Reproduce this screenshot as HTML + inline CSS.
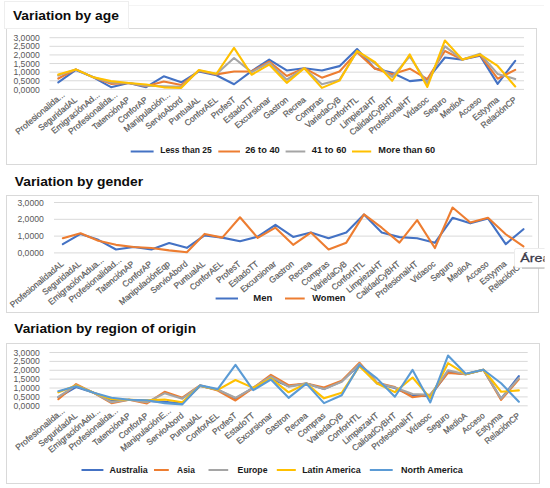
<!DOCTYPE html>
<html><head><meta charset="utf-8"><style>
html,body{margin:0;padding:0;background:#fff;width:550px;height:488px;overflow:hidden;}
svg text{font-family:"Liberation Sans", sans-serif;}
</style></head><body>
<svg width="550" height="488" viewBox="0 0 550 488" style="display:block;font-family:'Liberation Sans', sans-serif"><rect x="0" y="0" width="550" height="488" fill="#ffffff"/><line x1="128" y1="5.5" x2="544" y2="5.5" stroke="#f4f4f4" stroke-width="1"/><rect x="6.5" y="28.5" width="530.0" height="136.0" fill="#fff" stroke="#d9d9d9" stroke-width="1"/><line x1="49.5" y1="89.40" x2="524" y2="89.40" stroke="#d9d9d9" stroke-width="1"/><line x1="49.5" y1="80.78" x2="524" y2="80.78" stroke="#d9d9d9" stroke-width="1"/><line x1="49.5" y1="72.17" x2="524" y2="72.17" stroke="#d9d9d9" stroke-width="1"/><line x1="49.5" y1="63.55" x2="524" y2="63.55" stroke="#d9d9d9" stroke-width="1"/><line x1="49.5" y1="54.93" x2="524" y2="54.93" stroke="#d9d9d9" stroke-width="1"/><line x1="49.5" y1="46.32" x2="524" y2="46.32" stroke="#d9d9d9" stroke-width="1"/><line x1="49.5" y1="37.70" x2="524" y2="37.70" stroke="#d9d9d9" stroke-width="1"/><text x="39.8" y="92.50" text-anchor="end" font-size="8.8" fill="#595959" textLength="26.4" lengthAdjust="spacingAndGlyphs">0,0000</text><text x="39.8" y="83.88" text-anchor="end" font-size="8.8" fill="#595959" textLength="26.4" lengthAdjust="spacingAndGlyphs">0,5000</text><text x="39.8" y="75.27" text-anchor="end" font-size="8.8" fill="#595959" textLength="26.4" lengthAdjust="spacingAndGlyphs">1,0000</text><text x="39.8" y="66.65" text-anchor="end" font-size="8.8" fill="#595959" textLength="26.4" lengthAdjust="spacingAndGlyphs">1,5000</text><text x="39.8" y="58.03" text-anchor="end" font-size="8.8" fill="#595959" textLength="26.4" lengthAdjust="spacingAndGlyphs">2,0000</text><text x="39.8" y="49.42" text-anchor="end" font-size="8.8" fill="#595959" textLength="26.4" lengthAdjust="spacingAndGlyphs">2,5000</text><text x="39.8" y="40.80" text-anchor="end" font-size="8.8" fill="#595959" textLength="26.4" lengthAdjust="spacingAndGlyphs">3,0000</text><polyline points="58.29,82.33 75.86,69.93 93.44,77.34 111.01,87.16 128.58,83.02 146.16,87.16 163.73,76.30 181.31,82.33 198.88,71.48 216.45,75.27 234.03,84.23 251.60,71.13 269.18,59.59 286.75,70.44 304.32,68.20 321.90,70.44 339.47,66.14 357.05,49.07 374.62,68.38 392.19,72.68 409.77,81.13 427.34,79.40 444.92,57.52 462.49,59.59 480.06,55.62 497.64,83.89 515.21,60.79" fill="none" stroke="#4472c4" stroke-width="2.1" stroke-linejoin="round" stroke-linecap="round"/><polyline points="58.29,78.54 75.86,69.41 93.44,77.34 111.01,83.89 128.58,83.02 146.16,86.30 163.73,81.47 181.31,85.09 198.88,70.79 216.45,74.41 234.03,71.48 251.60,71.48 269.18,61.65 286.75,75.96 304.32,68.20 321.90,77.68 339.47,71.48 357.05,52.18 374.62,68.38 392.19,74.23 409.77,68.72 427.34,79.06 444.92,50.97 462.49,59.59 480.06,54.93 497.64,78.72 515.21,69.93" fill="none" stroke="#ed7d31" stroke-width="2.1" stroke-linejoin="round" stroke-linecap="round"/><polyline points="58.29,75.61 75.86,69.41 93.44,77.34 111.01,82.51 128.58,83.02 146.16,85.61 163.73,86.30 181.31,86.82 198.88,70.44 216.45,74.06 234.03,58.04 251.60,72.17 269.18,62.86 286.75,79.75 304.32,68.20 321.90,84.23 339.47,79.75 357.05,51.49 374.62,63.21 392.19,76.99 409.77,56.31 427.34,83.54 444.92,46.32 462.49,59.59 480.06,53.73 497.64,73.89 515.21,79.06" fill="none" stroke="#a5a5a5" stroke-width="2.1" stroke-linejoin="round" stroke-linecap="round"/><polyline points="58.29,74.58 75.86,69.41 93.44,77.34 111.01,81.13 128.58,83.02 146.16,84.57 163.73,87.33 181.31,87.85 198.88,69.93 216.45,73.72 234.03,47.87 251.60,74.75 269.18,64.58 286.75,82.85 304.32,68.20 321.90,87.85 339.47,80.61 357.05,50.97 374.62,61.83 392.19,80.78 409.77,54.42 427.34,86.99 444.92,40.46 462.49,59.59 480.06,54.42 497.64,65.96 515.21,86.47" fill="none" stroke="#ffc000" stroke-width="2.1" stroke-linejoin="round" stroke-linecap="round"/><text x="65.29" y="95.70" text-anchor="end" font-size="8.6" fill="#595959" stroke="#595959" stroke-width="0.2" textLength="61.08" lengthAdjust="spacingAndGlyphs" transform="rotate(-40 65.29 95.70)">Profesionalida...</text><text x="77.86" y="100.70" text-anchor="end" font-size="8.6" fill="#595959" stroke="#595959" stroke-width="0.2" textLength="47.64" lengthAdjust="spacingAndGlyphs" transform="rotate(-40 77.86 100.70)">SeguridadAL</text><text x="100.44" y="95.70" text-anchor="end" font-size="8.6" fill="#595959" stroke="#595959" stroke-width="0.2" textLength="60.16" lengthAdjust="spacingAndGlyphs" transform="rotate(-40 100.44 95.70)">EmigraciónAd...</text><text x="118.01" y="95.70" text-anchor="end" font-size="8.6" fill="#595959" stroke="#595959" stroke-width="0.2" textLength="61.08" lengthAdjust="spacingAndGlyphs" transform="rotate(-40 118.01 95.70)">Profesionalida...</text><text x="130.58" y="100.70" text-anchor="end" font-size="8.6" fill="#595959" stroke="#595959" stroke-width="0.2" textLength="46.26" lengthAdjust="spacingAndGlyphs" transform="rotate(-40 130.58 100.70)">TatenciónAP</text><text x="148.16" y="100.70" text-anchor="end" font-size="8.6" fill="#595959" stroke="#595959" stroke-width="0.2" textLength="35.72" lengthAdjust="spacingAndGlyphs" transform="rotate(-40 148.16 100.70)">ConforAP</text><text x="170.73" y="95.70" text-anchor="end" font-size="8.6" fill="#595959" stroke="#595959" stroke-width="0.2" textLength="57.42" lengthAdjust="spacingAndGlyphs" transform="rotate(-40 170.73 95.70)">Manipulación...</text><text x="183.31" y="100.70" text-anchor="end" font-size="8.6" fill="#595959" stroke="#595959" stroke-width="0.2" textLength="45.34" lengthAdjust="spacingAndGlyphs" transform="rotate(-40 183.31 100.70)">ServioAbord</text><text x="200.88" y="100.70" text-anchor="end" font-size="8.6" fill="#595959" stroke="#595959" stroke-width="0.2" textLength="38.02" lengthAdjust="spacingAndGlyphs" transform="rotate(-40 200.88 100.70)">PuntualAL</text><text x="218.45" y="100.70" text-anchor="end" font-size="8.6" fill="#595959" stroke="#595959" stroke-width="0.2" textLength="40.31" lengthAdjust="spacingAndGlyphs" transform="rotate(-40 218.45 100.70)">ConforAEL</text><text x="236.03" y="100.70" text-anchor="end" font-size="8.6" fill="#595959" stroke="#595959" stroke-width="0.2" textLength="28.85" lengthAdjust="spacingAndGlyphs" transform="rotate(-40 236.03 100.70)">ProfesT</text><text x="253.60" y="100.70" text-anchor="end" font-size="8.6" fill="#595959" stroke="#595959" stroke-width="0.2" textLength="35.72" lengthAdjust="spacingAndGlyphs" transform="rotate(-40 253.60 100.70)">EstadoTT</text><text x="271.18" y="100.70" text-anchor="end" font-size="8.6" fill="#595959" stroke="#595959" stroke-width="0.2" textLength="43.50" lengthAdjust="spacingAndGlyphs" transform="rotate(-40 271.18 100.70)">Excursionar</text><text x="288.75" y="100.70" text-anchor="end" font-size="8.6" fill="#595959" stroke="#595959" stroke-width="0.2" textLength="29.31" lengthAdjust="spacingAndGlyphs" transform="rotate(-40 288.75 100.70)">Gastron</text><text x="306.32" y="100.70" text-anchor="end" font-size="8.6" fill="#595959" stroke="#595959" stroke-width="0.2" textLength="26.56" lengthAdjust="spacingAndGlyphs" transform="rotate(-40 306.32 100.70)">Recrea</text><text x="323.90" y="100.70" text-anchor="end" font-size="8.6" fill="#595959" stroke="#595959" stroke-width="0.2" textLength="33.42" lengthAdjust="spacingAndGlyphs" transform="rotate(-40 323.90 100.70)">Compras</text><text x="341.47" y="100.70" text-anchor="end" font-size="8.6" fill="#595959" stroke="#595959" stroke-width="0.2" textLength="43.36" lengthAdjust="spacingAndGlyphs" transform="rotate(-40 341.47 100.70)">VariedaCyB</text><text x="359.05" y="100.70" text-anchor="end" font-size="8.6" fill="#595959" stroke="#595959" stroke-width="0.2" textLength="40.30" lengthAdjust="spacingAndGlyphs" transform="rotate(-40 359.05 100.70)">ConforHTL</text><text x="376.62" y="100.70" text-anchor="end" font-size="8.6" fill="#595959" stroke="#595959" stroke-width="0.2" textLength="43.96" lengthAdjust="spacingAndGlyphs" transform="rotate(-40 376.62 100.70)">LimpiezaHT</text><text x="394.19" y="100.70" text-anchor="end" font-size="8.6" fill="#595959" stroke="#595959" stroke-width="0.2" textLength="54.49" lengthAdjust="spacingAndGlyphs" transform="rotate(-40 394.19 100.70)">CalidadCyBHT</text><text x="411.77" y="100.70" text-anchor="end" font-size="8.6" fill="#595959" stroke="#595959" stroke-width="0.2" textLength="52.21" lengthAdjust="spacingAndGlyphs" transform="rotate(-40 411.77 100.70)">ProfesionalHT</text><text x="429.34" y="100.70" text-anchor="end" font-size="8.6" fill="#595959" stroke="#595959" stroke-width="0.2" textLength="29.16" lengthAdjust="spacingAndGlyphs" transform="rotate(-40 429.34 100.70)">Vidasoc</text><text x="446.92" y="100.70" text-anchor="end" font-size="8.6" fill="#595959" stroke="#595959" stroke-width="0.2" textLength="26.57" lengthAdjust="spacingAndGlyphs" transform="rotate(-40 446.92 100.70)">Seguro</text><text x="464.49" y="100.70" text-anchor="end" font-size="8.6" fill="#595959" stroke="#595959" stroke-width="0.2" textLength="27.94" lengthAdjust="spacingAndGlyphs" transform="rotate(-40 464.49 100.70)">MedioA</text><text x="482.06" y="100.70" text-anchor="end" font-size="8.6" fill="#595959" stroke="#595959" stroke-width="0.2" textLength="27.02" lengthAdjust="spacingAndGlyphs" transform="rotate(-40 482.06 100.70)">Acceso</text><text x="499.64" y="100.70" text-anchor="end" font-size="8.6" fill="#595959" stroke="#595959" stroke-width="0.2" textLength="31.59" lengthAdjust="spacingAndGlyphs" transform="rotate(-40 499.64 100.70)">Estyyma</text><text x="517.21" y="100.70" text-anchor="end" font-size="8.6" fill="#595959" stroke="#595959" stroke-width="0.2" textLength="43.51" lengthAdjust="spacingAndGlyphs" transform="rotate(-40 517.21 100.70)">RelaciónCP</text><line x1="130.7" y1="151.5" x2="153.6" y2="151.5" stroke="#4472c4" stroke-width="2"/><text x="160.2" y="153.10" font-size="9.6" font-weight="bold" fill="#1a1a1a" textLength="51.5" lengthAdjust="spacingAndGlyphs">Less than 25</text><line x1="218.3" y1="151.5" x2="240" y2="151.5" stroke="#ed7d31" stroke-width="2"/><text x="245.2" y="153.10" font-size="9.6" font-weight="bold" fill="#1a1a1a" textLength="34.60000000000002" lengthAdjust="spacingAndGlyphs">26 to 40</text><line x1="285.6" y1="151.5" x2="305.3" y2="151.5" stroke="#a5a5a5" stroke-width="2"/><text x="311.8" y="153.10" font-size="9.6" font-weight="bold" fill="#1a1a1a" textLength="34.69999999999999" lengthAdjust="spacingAndGlyphs">41 to 60</text><line x1="352" y1="151.5" x2="371.2" y2="151.5" stroke="#ffc000" stroke-width="2"/><text x="378.3" y="153.10" font-size="9.6" font-weight="bold" fill="#1a1a1a" textLength="56.89999999999998" lengthAdjust="spacingAndGlyphs">More than 60</text><rect x="4.5" y="1.5" width="124" height="27" fill="#fff" stroke="#eeeeee" stroke-width="1"/><text x="12.9" y="19.8" font-size="13.6" font-weight="bold" fill="#0d0d0d" textLength="106" lengthAdjust="spacingAndGlyphs">Variation by age</text><text x="14.8" y="185.7" font-size="13.6" font-weight="bold" fill="#0d0d0d" textLength="128.3" lengthAdjust="spacingAndGlyphs">Variation by gender</text><rect x="6.5" y="195.5" width="532.0" height="117.0" fill="#fff" stroke="#d9d9d9" stroke-width="1"/><line x1="54" y1="252.90" x2="532.3" y2="252.90" stroke="#d9d9d9" stroke-width="1"/><line x1="54" y1="236.10" x2="532.3" y2="236.10" stroke="#d9d9d9" stroke-width="1"/><line x1="54" y1="219.30" x2="532.3" y2="219.30" stroke="#d9d9d9" stroke-width="1"/><line x1="54" y1="202.50" x2="532.3" y2="202.50" stroke="#d9d9d9" stroke-width="1"/><text x="43.8" y="256.00" text-anchor="end" font-size="8.8" fill="#595959" textLength="26.4" lengthAdjust="spacingAndGlyphs">0,0000</text><text x="43.8" y="239.20" text-anchor="end" font-size="8.8" fill="#595959" textLength="26.4" lengthAdjust="spacingAndGlyphs">1,0000</text><text x="43.8" y="222.40" text-anchor="end" font-size="8.8" fill="#595959" textLength="26.4" lengthAdjust="spacingAndGlyphs">2,0000</text><text x="43.8" y="205.60" text-anchor="end" font-size="8.8" fill="#595959" textLength="26.4" lengthAdjust="spacingAndGlyphs">3,0000</text><polyline points="62.86,244.16 80.57,233.92 98.29,239.80 116.00,249.54 133.72,247.02 151.43,249.54 169.15,242.99 186.86,247.86 204.58,235.43 222.29,237.61 240.01,241.31 257.72,236.60 275.44,224.84 293.15,236.94 310.86,232.57 328.58,238.28 346.29,232.57 364.01,214.60 381.72,232.57 399.44,237.11 417.15,238.28 434.87,242.82 452.58,217.79 470.30,223.33 488.01,218.46 505.73,244.16 523.44,229.21" fill="none" stroke="#4472c4" stroke-width="2.1" stroke-linejoin="round" stroke-linecap="round"/><polyline points="62.86,238.28 80.57,233.24 98.29,240.80 116.00,244.84 133.72,247.02 151.43,248.03 169.15,250.38 186.86,252.23 204.58,233.92 222.29,237.61 240.01,217.28 257.72,237.95 275.44,227.70 293.15,244.84 310.86,232.57 328.58,249.54 346.29,242.65 364.01,214.43 381.72,227.70 399.44,242.65 417.15,220.14 434.87,248.03 452.58,207.54 470.30,222.49 488.01,217.79 505.73,234.25 523.44,246.35" fill="none" stroke="#ed7d31" stroke-width="2.1" stroke-linejoin="round" stroke-linecap="round"/><text x="64.16" y="264.90" text-anchor="end" font-size="8.6" fill="#595959" stroke="#595959" stroke-width="0.2" textLength="66.88" lengthAdjust="spacingAndGlyphs" transform="rotate(-40 64.16 264.90)">ProfesionalidadAL</text><text x="81.87" y="264.90" text-anchor="end" font-size="8.6" fill="#595959" stroke="#595959" stroke-width="0.2" textLength="47.64" lengthAdjust="spacingAndGlyphs" transform="rotate(-40 81.87 264.90)">SeguridadAL</text><text x="104.29" y="260.90" text-anchor="end" font-size="8.6" fill="#595959" stroke="#595959" stroke-width="0.2" textLength="69.32" lengthAdjust="spacingAndGlyphs" transform="rotate(-40 104.29 260.90)">EmigraciónAdua...</text><text x="122.00" y="260.90" text-anchor="end" font-size="8.6" fill="#595959" stroke="#595959" stroke-width="0.2" textLength="65.67" lengthAdjust="spacingAndGlyphs" transform="rotate(-40 122.00 260.90)">Profesionalidad...</text><text x="135.02" y="264.90" text-anchor="end" font-size="8.6" fill="#595959" stroke="#595959" stroke-width="0.2" textLength="46.26" lengthAdjust="spacingAndGlyphs" transform="rotate(-40 135.02 264.90)">TatenciónAP</text><text x="152.73" y="264.90" text-anchor="end" font-size="8.6" fill="#595959" stroke="#595959" stroke-width="0.2" textLength="35.72" lengthAdjust="spacingAndGlyphs" transform="rotate(-40 152.73 264.90)">ConforAP</text><text x="170.45" y="264.90" text-anchor="end" font-size="8.6" fill="#595959" stroke="#595959" stroke-width="0.2" textLength="63.21" lengthAdjust="spacingAndGlyphs" transform="rotate(-40 170.45 264.90)">ManipulaciónEqp</text><text x="188.16" y="264.90" text-anchor="end" font-size="8.6" fill="#595959" stroke="#595959" stroke-width="0.2" textLength="45.34" lengthAdjust="spacingAndGlyphs" transform="rotate(-40 188.16 264.90)">ServioAbord</text><text x="205.88" y="264.90" text-anchor="end" font-size="8.6" fill="#595959" stroke="#595959" stroke-width="0.2" textLength="38.02" lengthAdjust="spacingAndGlyphs" transform="rotate(-40 205.88 264.90)">PuntualAL</text><text x="223.59" y="264.90" text-anchor="end" font-size="8.6" fill="#595959" stroke="#595959" stroke-width="0.2" textLength="40.31" lengthAdjust="spacingAndGlyphs" transform="rotate(-40 223.59 264.90)">ConforAEL</text><text x="241.31" y="264.90" text-anchor="end" font-size="8.6" fill="#595959" stroke="#595959" stroke-width="0.2" textLength="28.85" lengthAdjust="spacingAndGlyphs" transform="rotate(-40 241.31 264.90)">ProfesT</text><text x="259.02" y="264.90" text-anchor="end" font-size="8.6" fill="#595959" stroke="#595959" stroke-width="0.2" textLength="35.72" lengthAdjust="spacingAndGlyphs" transform="rotate(-40 259.02 264.90)">EstadoTT</text><text x="276.74" y="264.90" text-anchor="end" font-size="8.6" fill="#595959" stroke="#595959" stroke-width="0.2" textLength="43.50" lengthAdjust="spacingAndGlyphs" transform="rotate(-40 276.74 264.90)">Excursionar</text><text x="294.45" y="264.90" text-anchor="end" font-size="8.6" fill="#595959" stroke="#595959" stroke-width="0.2" textLength="29.31" lengthAdjust="spacingAndGlyphs" transform="rotate(-40 294.45 264.90)">Gastron</text><text x="312.16" y="264.90" text-anchor="end" font-size="8.6" fill="#595959" stroke="#595959" stroke-width="0.2" textLength="26.56" lengthAdjust="spacingAndGlyphs" transform="rotate(-40 312.16 264.90)">Recrea</text><text x="329.88" y="264.90" text-anchor="end" font-size="8.6" fill="#595959" stroke="#595959" stroke-width="0.2" textLength="33.42" lengthAdjust="spacingAndGlyphs" transform="rotate(-40 329.88 264.90)">Compras</text><text x="347.59" y="264.90" text-anchor="end" font-size="8.6" fill="#595959" stroke="#595959" stroke-width="0.2" textLength="43.36" lengthAdjust="spacingAndGlyphs" transform="rotate(-40 347.59 264.90)">VariedaCyB</text><text x="365.31" y="264.90" text-anchor="end" font-size="8.6" fill="#595959" stroke="#595959" stroke-width="0.2" textLength="40.30" lengthAdjust="spacingAndGlyphs" transform="rotate(-40 365.31 264.90)">ConforHTL</text><text x="383.02" y="264.90" text-anchor="end" font-size="8.6" fill="#595959" stroke="#595959" stroke-width="0.2" textLength="43.96" lengthAdjust="spacingAndGlyphs" transform="rotate(-40 383.02 264.90)">LimpiezaHT</text><text x="400.74" y="264.90" text-anchor="end" font-size="8.6" fill="#595959" stroke="#595959" stroke-width="0.2" textLength="54.49" lengthAdjust="spacingAndGlyphs" transform="rotate(-40 400.74 264.90)">CalidadCyBHT</text><text x="418.45" y="264.90" text-anchor="end" font-size="8.6" fill="#595959" stroke="#595959" stroke-width="0.2" textLength="52.21" lengthAdjust="spacingAndGlyphs" transform="rotate(-40 418.45 264.90)">ProfesionalHT</text><text x="436.17" y="264.90" text-anchor="end" font-size="8.6" fill="#595959" stroke="#595959" stroke-width="0.2" textLength="29.16" lengthAdjust="spacingAndGlyphs" transform="rotate(-40 436.17 264.90)">Vidasoc</text><text x="453.88" y="264.90" text-anchor="end" font-size="8.6" fill="#595959" stroke="#595959" stroke-width="0.2" textLength="26.57" lengthAdjust="spacingAndGlyphs" transform="rotate(-40 453.88 264.90)">Seguro</text><text x="471.60" y="264.90" text-anchor="end" font-size="8.6" fill="#595959" stroke="#595959" stroke-width="0.2" textLength="27.94" lengthAdjust="spacingAndGlyphs" transform="rotate(-40 471.60 264.90)">MedioA</text><text x="489.31" y="264.90" text-anchor="end" font-size="8.6" fill="#595959" stroke="#595959" stroke-width="0.2" textLength="27.02" lengthAdjust="spacingAndGlyphs" transform="rotate(-40 489.31 264.90)">Acceso</text><text x="507.03" y="264.90" text-anchor="end" font-size="8.6" fill="#595959" stroke="#595959" stroke-width="0.2" textLength="31.59" lengthAdjust="spacingAndGlyphs" transform="rotate(-40 507.03 264.90)">Estyyma</text><text x="524.74" y="264.90" text-anchor="end" font-size="8.6" fill="#595959" stroke="#595959" stroke-width="0.2" textLength="43.51" lengthAdjust="spacingAndGlyphs" transform="rotate(-40 524.74 264.90)">RelaciónCP</text><line x1="215.6" y1="298.5" x2="238" y2="298.5" stroke="#4472c4" stroke-width="2"/><text x="253.3" y="301.10" font-size="9.6" font-weight="bold" fill="#1a1a1a" textLength="19.0" lengthAdjust="spacingAndGlyphs">Men</text><line x1="285" y1="298.5" x2="304.7" y2="298.5" stroke="#ed7d31" stroke-width="2"/><text x="312.3" y="301.10" font-size="9.6" font-weight="bold" fill="#1a1a1a" textLength="33.099999999999966" lengthAdjust="spacingAndGlyphs">Women</text><text x="14.3" y="332.6" font-size="13.6" font-weight="bold" fill="#0d0d0d" textLength="181.7" lengthAdjust="spacingAndGlyphs">Variation by region of origin</text><rect x="6.5" y="343.5" width="533.0" height="140.0" fill="#fff" stroke="#d9d9d9" stroke-width="1"/><line x1="49.5" y1="405.80" x2="527.7" y2="405.80" stroke="#d9d9d9" stroke-width="1"/><line x1="49.5" y1="396.92" x2="527.7" y2="396.92" stroke="#d9d9d9" stroke-width="1"/><line x1="49.5" y1="388.03" x2="527.7" y2="388.03" stroke="#d9d9d9" stroke-width="1"/><line x1="49.5" y1="379.15" x2="527.7" y2="379.15" stroke="#d9d9d9" stroke-width="1"/><line x1="49.5" y1="370.27" x2="527.7" y2="370.27" stroke="#d9d9d9" stroke-width="1"/><line x1="49.5" y1="361.38" x2="527.7" y2="361.38" stroke="#d9d9d9" stroke-width="1"/><line x1="49.5" y1="352.50" x2="527.7" y2="352.50" stroke="#d9d9d9" stroke-width="1"/><text x="39.8" y="408.90" text-anchor="end" font-size="8.8" fill="#595959" textLength="26.4" lengthAdjust="spacingAndGlyphs">0,0000</text><text x="39.8" y="400.02" text-anchor="end" font-size="8.8" fill="#595959" textLength="26.4" lengthAdjust="spacingAndGlyphs">0,5000</text><text x="39.8" y="391.13" text-anchor="end" font-size="8.8" fill="#595959" textLength="26.4" lengthAdjust="spacingAndGlyphs">1,0000</text><text x="39.8" y="382.25" text-anchor="end" font-size="8.8" fill="#595959" textLength="26.4" lengthAdjust="spacingAndGlyphs">1,5000</text><text x="39.8" y="373.37" text-anchor="end" font-size="8.8" fill="#595959" textLength="26.4" lengthAdjust="spacingAndGlyphs">2,0000</text><text x="39.8" y="364.48" text-anchor="end" font-size="8.8" fill="#595959" textLength="26.4" lengthAdjust="spacingAndGlyphs">2,5000</text><text x="39.8" y="355.60" text-anchor="end" font-size="8.8" fill="#595959" textLength="26.4" lengthAdjust="spacingAndGlyphs">3,0000</text><polyline points="58.36,397.27 76.07,386.97 93.78,392.83 111.49,400.47 129.20,399.76 146.91,400.83 164.62,401.89 182.33,403.49 200.04,385.90 217.76,389.81 235.47,398.52 253.18,387.86 270.89,378.62 288.60,386.26 306.31,383.59 324.02,389.10 341.73,381.28 359.44,364.94 377.16,383.59 394.87,388.03 412.58,396.03 430.29,396.03 448.00,372.04 465.71,374.18 483.42,369.73 501.13,398.69 518.84,376.13" fill="none" stroke="#4472c4" stroke-width="2.1" stroke-linejoin="round" stroke-linecap="round"/><polyline points="58.36,399.23 76.07,384.12 93.78,392.83 111.49,403.13 129.20,399.76 146.91,403.49 164.62,391.76 182.33,397.63 200.04,385.37 217.76,390.52 235.47,400.47 253.18,387.86 270.89,374.89 288.60,385.19 306.31,383.59 324.02,387.50 341.73,380.75 359.44,362.80 377.16,382.88 394.87,387.14 412.58,397.27 430.29,394.78 448.00,372.93 465.71,374.18 483.42,369.73 501.13,399.94 518.84,379.33" fill="none" stroke="#ed7d31" stroke-width="2.1" stroke-linejoin="round" stroke-linecap="round"/><polyline points="58.36,396.92 76.07,385.19 93.78,392.83 111.49,402.25 129.20,399.76 146.91,402.25 164.62,393.36 182.33,398.69 200.04,385.72 217.76,389.81 235.47,397.81 253.18,387.86 270.89,376.49 288.60,386.61 306.31,383.59 324.02,389.10 341.73,381.81 359.44,363.87 377.16,383.24 394.87,387.50 412.58,394.07 430.29,394.78 448.00,370.27 465.71,374.18 483.42,369.73 501.13,398.69 518.84,378.08" fill="none" stroke="#a5a5a5" stroke-width="2.1" stroke-linejoin="round" stroke-linecap="round"/><polyline points="58.36,392.30 76.07,385.55 93.78,392.83 111.49,399.23 129.20,399.76 146.91,400.29 164.62,399.58 182.33,402.25 200.04,385.72 217.76,389.81 235.47,380.04 253.18,387.86 270.89,378.44 288.60,392.30 306.31,383.59 324.02,398.34 341.73,392.83 359.44,366.18 377.16,383.59 394.87,392.12 412.58,377.55 430.29,398.16 448.00,363.16 465.71,374.18 483.42,369.73 501.13,391.76 518.84,390.34" fill="none" stroke="#ffc000" stroke-width="2.1" stroke-linejoin="round" stroke-linecap="round"/><polyline points="58.36,391.23 76.07,386.26 93.78,392.83 111.49,397.81 129.20,399.76 146.91,400.29 164.62,403.13 182.33,404.38 200.04,385.37 217.76,389.10 235.47,364.94 253.18,390.17 270.89,379.51 288.60,397.81 306.31,383.59 324.02,403.13 341.73,395.32 359.44,364.94 377.16,378.62 394.87,396.74 412.58,369.91 430.29,402.42 448.00,355.52 465.71,373.82 483.42,369.73 501.13,383.24 518.84,401.71" fill="none" stroke="#5b9bd5" stroke-width="2.1" stroke-linejoin="round" stroke-linecap="round"/><text x="65.36" y="411.60" text-anchor="end" font-size="8.6" fill="#595959" stroke="#595959" stroke-width="0.2" textLength="61.08" lengthAdjust="spacingAndGlyphs" transform="rotate(-40 65.36 411.60)">Profesionalida...</text><text x="78.07" y="416.60" text-anchor="end" font-size="8.6" fill="#595959" stroke="#595959" stroke-width="0.2" textLength="47.64" lengthAdjust="spacingAndGlyphs" transform="rotate(-40 78.07 416.60)">SeguridadAL</text><text x="100.78" y="411.60" text-anchor="end" font-size="8.6" fill="#595959" stroke="#595959" stroke-width="0.2" textLength="64.74" lengthAdjust="spacingAndGlyphs" transform="rotate(-40 100.78 411.60)">EmigraciónAdu...</text><text x="118.49" y="411.60" text-anchor="end" font-size="8.6" fill="#595959" stroke="#595959" stroke-width="0.2" textLength="61.08" lengthAdjust="spacingAndGlyphs" transform="rotate(-40 118.49 411.60)">Profesionalida...</text><text x="131.20" y="416.60" text-anchor="end" font-size="8.6" fill="#595959" stroke="#595959" stroke-width="0.2" textLength="46.26" lengthAdjust="spacingAndGlyphs" transform="rotate(-40 131.20 416.60)">TatenciónAP</text><text x="148.91" y="416.60" text-anchor="end" font-size="8.6" fill="#595959" stroke="#595959" stroke-width="0.2" textLength="35.72" lengthAdjust="spacingAndGlyphs" transform="rotate(-40 148.91 416.60)">ConforAP</text><text x="171.62" y="411.60" text-anchor="end" font-size="8.6" fill="#595959" stroke="#595959" stroke-width="0.2" textLength="62.92" lengthAdjust="spacingAndGlyphs" transform="rotate(-40 171.62 411.60)">ManipulaciónE...</text><text x="184.33" y="416.60" text-anchor="end" font-size="8.6" fill="#595959" stroke="#595959" stroke-width="0.2" textLength="45.34" lengthAdjust="spacingAndGlyphs" transform="rotate(-40 184.33 416.60)">ServioAbord</text><text x="202.04" y="416.60" text-anchor="end" font-size="8.6" fill="#595959" stroke="#595959" stroke-width="0.2" textLength="38.02" lengthAdjust="spacingAndGlyphs" transform="rotate(-40 202.04 416.60)">PuntualAL</text><text x="219.76" y="416.60" text-anchor="end" font-size="8.6" fill="#595959" stroke="#595959" stroke-width="0.2" textLength="40.31" lengthAdjust="spacingAndGlyphs" transform="rotate(-40 219.76 416.60)">ConforAEL</text><text x="237.47" y="416.60" text-anchor="end" font-size="8.6" fill="#595959" stroke="#595959" stroke-width="0.2" textLength="28.85" lengthAdjust="spacingAndGlyphs" transform="rotate(-40 237.47 416.60)">ProfesT</text><text x="255.18" y="416.60" text-anchor="end" font-size="8.6" fill="#595959" stroke="#595959" stroke-width="0.2" textLength="35.72" lengthAdjust="spacingAndGlyphs" transform="rotate(-40 255.18 416.60)">EstadoTT</text><text x="272.89" y="416.60" text-anchor="end" font-size="8.6" fill="#595959" stroke="#595959" stroke-width="0.2" textLength="43.50" lengthAdjust="spacingAndGlyphs" transform="rotate(-40 272.89 416.60)">Excursionar</text><text x="290.60" y="416.60" text-anchor="end" font-size="8.6" fill="#595959" stroke="#595959" stroke-width="0.2" textLength="29.31" lengthAdjust="spacingAndGlyphs" transform="rotate(-40 290.60 416.60)">Gastron</text><text x="308.31" y="416.60" text-anchor="end" font-size="8.6" fill="#595959" stroke="#595959" stroke-width="0.2" textLength="26.56" lengthAdjust="spacingAndGlyphs" transform="rotate(-40 308.31 416.60)">Recrea</text><text x="326.02" y="416.60" text-anchor="end" font-size="8.6" fill="#595959" stroke="#595959" stroke-width="0.2" textLength="33.42" lengthAdjust="spacingAndGlyphs" transform="rotate(-40 326.02 416.60)">Compras</text><text x="343.73" y="416.60" text-anchor="end" font-size="8.6" fill="#595959" stroke="#595959" stroke-width="0.2" textLength="43.36" lengthAdjust="spacingAndGlyphs" transform="rotate(-40 343.73 416.60)">VariedaCyB</text><text x="361.44" y="416.60" text-anchor="end" font-size="8.6" fill="#595959" stroke="#595959" stroke-width="0.2" textLength="40.30" lengthAdjust="spacingAndGlyphs" transform="rotate(-40 361.44 416.60)">ConforHTL</text><text x="379.16" y="416.60" text-anchor="end" font-size="8.6" fill="#595959" stroke="#595959" stroke-width="0.2" textLength="43.96" lengthAdjust="spacingAndGlyphs" transform="rotate(-40 379.16 416.60)">LimpiezaHT</text><text x="396.87" y="416.60" text-anchor="end" font-size="8.6" fill="#595959" stroke="#595959" stroke-width="0.2" textLength="54.49" lengthAdjust="spacingAndGlyphs" transform="rotate(-40 396.87 416.60)">CalidadCyBHT</text><text x="414.58" y="416.60" text-anchor="end" font-size="8.6" fill="#595959" stroke="#595959" stroke-width="0.2" textLength="52.21" lengthAdjust="spacingAndGlyphs" transform="rotate(-40 414.58 416.60)">ProfesionalHT</text><text x="432.29" y="416.60" text-anchor="end" font-size="8.6" fill="#595959" stroke="#595959" stroke-width="0.2" textLength="29.16" lengthAdjust="spacingAndGlyphs" transform="rotate(-40 432.29 416.60)">Vidasoc</text><text x="450.00" y="416.60" text-anchor="end" font-size="8.6" fill="#595959" stroke="#595959" stroke-width="0.2" textLength="26.57" lengthAdjust="spacingAndGlyphs" transform="rotate(-40 450.00 416.60)">Seguro</text><text x="467.71" y="416.60" text-anchor="end" font-size="8.6" fill="#595959" stroke="#595959" stroke-width="0.2" textLength="27.94" lengthAdjust="spacingAndGlyphs" transform="rotate(-40 467.71 416.60)">MedioA</text><text x="485.42" y="416.60" text-anchor="end" font-size="8.6" fill="#595959" stroke="#595959" stroke-width="0.2" textLength="27.02" lengthAdjust="spacingAndGlyphs" transform="rotate(-40 485.42 416.60)">Acceso</text><text x="503.13" y="416.60" text-anchor="end" font-size="8.6" fill="#595959" stroke="#595959" stroke-width="0.2" textLength="31.59" lengthAdjust="spacingAndGlyphs" transform="rotate(-40 503.13 416.60)">Estyyma</text><text x="520.84" y="416.60" text-anchor="end" font-size="8.6" fill="#595959" stroke="#595959" stroke-width="0.2" textLength="43.51" lengthAdjust="spacingAndGlyphs" transform="rotate(-40 520.84 416.60)">RelaciónCP</text><line x1="81.5" y1="470" x2="103.4" y2="470" stroke="#4472c4" stroke-width="2"/><text x="109.5" y="472.80" font-size="9.6" font-weight="bold" fill="#1a1a1a" textLength="38.19999999999999" lengthAdjust="spacingAndGlyphs">Australia</text><line x1="154" y1="470" x2="168.8" y2="470" stroke="#ed7d31" stroke-width="2"/><text x="177.1" y="472.80" font-size="9.6" font-weight="bold" fill="#1a1a1a" textLength="17.700000000000017" lengthAdjust="spacingAndGlyphs">Asia</text><line x1="208.5" y1="470" x2="228.2" y2="470" stroke="#a5a5a5" stroke-width="2"/><text x="237.6" y="472.80" font-size="9.6" font-weight="bold" fill="#1a1a1a" textLength="29.900000000000006" lengthAdjust="spacingAndGlyphs">Europe</text><line x1="276.8" y1="470" x2="295.8" y2="470" stroke="#ffc000" stroke-width="2"/><text x="302.2" y="472.80" font-size="9.6" font-weight="bold" fill="#1a1a1a" textLength="58.5" lengthAdjust="spacingAndGlyphs">Latin America</text><line x1="369.8" y1="470" x2="392.7" y2="470" stroke="#5b9bd5" stroke-width="2"/><text x="401" y="472.80" font-size="9.6" font-weight="bold" fill="#1a1a1a" textLength="61.69999999999999" lengthAdjust="spacingAndGlyphs">North America</text><defs><clipPath id="tc"><rect x="514" y="246" width="30.5" height="25"/></clipPath></defs><g clip-path="url(#tc)"><rect x="514.5" y="248.5" width="40" height="19" rx="2" fill="#fff" stroke="#ececec" stroke-width="1"/><line x1="522" y1="268.2" x2="545" y2="268.2" stroke="#bdbdbd" stroke-width="1.2"/><text x="520.3" y="261.5" font-size="11.3" fill="#3a3a4a" stroke="#3a3a4a" stroke-width="0.3" textLength="30" lengthAdjust="spacingAndGlyphs">Área</text></g></svg>
</body></html>
